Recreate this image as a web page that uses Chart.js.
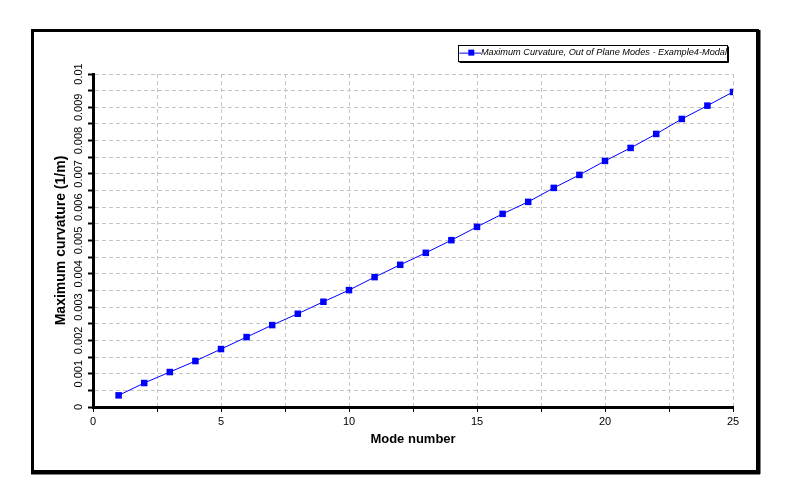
<!DOCTYPE html>
<html>
<head>
<meta charset="utf-8">
<script src="https://cdn.jsdelivr.net/npm/chart.js@4/dist/chart.umd.min.js"></script>
<style>
  body { margin: 0; background: #fff; }
  canvas { display: block; }
</style>
</head>
<body>
<canvas id="curvChart" width="788" height="502"></canvas>
<script>
// values
const modeNumbers = [1, 2, 3, 4, 5, 6, 7, 8, 9, 10, 11, 12, 13, 14, 15, 16, 17, 18, 19, 20, 21, 22, 23, 24, 25];
const maxCurvature = [0.00035, 0.00072, 0.00105, 0.00138, 0.00174, 0.0021, 0.00246, 0.0028, 0.00316, 0.00351,
  0.0039, 0.00427, 0.00463, 0.00501, 0.00541, 0.0058, 0.00616, 0.00658, 0.00697, 0.00739,
  0.00778, 0.0082, 0.00865, 0.00905, 0.00946];
const xTickLabels = ['0', '5', '10', '15', '20', '25'];
const yTickLabels = ['0', '0.001', '0.002', '0.003', '0.004', '0.005', '0.006', '0.007', '0.008', '0.009', '0.01'];
const seriesName = 'Maximum Curvature, Out of Plane Modes - Example4-Modal';

Chart.defaults.font.family = '"Liberation Sans", Arial, sans-serif';
Chart.defaults.color = '#000';

const PAD_L = 52, PAD_R = 55, PAD_T = 42, PAD_B = 52;
const LEGEND_FONT = 9.2;

// little line + square icon for the legend
function legendMarker() {
  const c = document.createElement('canvas');
  c.width = 32;
  c.height = 8;
  const g = c.getContext('2d');
  g.strokeStyle = '#0000ff';
  g.lineWidth = 1;
  g.beginPath();
  g.moveTo(10, 4.5);
  g.lineTo(32, 4.5);
  g.stroke();
  g.fillStyle = '#0000ff';
  g.fillRect(19, 1, 6, 6);
  return c;
}

const framePlugin = {
  id: 'frame',
  beforeInit(chart) {
    // leave a gap under the legend like the original
    const lg = chart.legend;
    const fit = lg.fit;
    lg.fit = function () {
      fit.call(this);
      this.height += 6.8;
    };
  },
  beforeDraw(chart) {
    const ctx = chart.ctx;
    ctx.save();
    ctx.fillStyle = '#fff';
    ctx.fillRect(0, 0, chart.width, chart.height);
    ctx.strokeStyle = '#000';
    ctx.lineWidth = 3;
    ctx.strokeRect(32.5, 30.5, 725, 441);
    ctx.fillStyle = '#000';
    ctx.fillRect(759, 30, 1.5, 444);
    ctx.fillRect(31, 473, 729, 1.5);
    ctx.restore();
  },
  afterDraw(chart) {
    const hb = chart.legend.legendHitBoxes[0];
    if (!hb) return;
    const ctx = chart.ctx;
    const mid = hb.top + LEGEND_FONT / 2;
    const l = Math.round(hb.left) + 4.5;
    const r = Math.round(hb.left + hb.width) + 0.5;
    const t = Math.round(mid - 7.5) + 0.5;
    const b = Math.round(mid + 8) + 0.5;
    ctx.save();
    ctx.strokeStyle = '#000';
    ctx.lineWidth = 1;
    ctx.strokeRect(l, t, r - l, b - t);
    ctx.fillStyle = '#000';
    ctx.fillRect(r + 0.5, t + 1, 1, b - t);
    ctx.fillRect(l + 1, b + 0.5, r - l, 1);
    ctx.restore();
  }
};

const points = modeNumbers.map((m, i) => ({ x: m, y: maxCurvature[i] }));

new Chart(document.getElementById('curvChart'), {
  type: 'line',
  data: {
    datasets: [{
      label: seriesName,
      data: points,
      borderColor: '#0000ff',
      backgroundColor: '#0000ff',
      borderWidth: 1,
      pointStyle: 'rect',
      pointRadius: 4.6,
      pointBorderWidth: 0,
      pointBackgroundColor: '#0000ff',
      tension: 0
    }]
  },
  options: {
    responsive: false,
    animation: false,
    devicePixelRatio: 1,
    layout: { padding: { left: PAD_L, right: PAD_R, top: PAD_T, bottom: PAD_B } },
    plugins: {
      tooltip: { enabled: false },
      legend: {
        position: 'top',
        align: 'end',
        labels: {
          usePointStyle: true,
          pointStyle: legendMarker(),
          pointStyleWidth: 22,
          padding: 6,
          color: '#000',
          font: { size: LEGEND_FONT, style: 'italic' }
        }
      }
    },
    scales: {
      x: {
        type: 'linear',
        min: 0,
        max: 25,
        afterFit: (s) => { s.height = 43; },
        ticks: {
          stepSize: 2.5,
          autoSkip: false,
          maxRotation: 0,
          padding: 3,
          font: { size: 11 },
          callback: (v) => {
            const s = String(v);
            return xTickLabels.includes(s) ? s : '';
          }
        },
        grid: {
          color: '#c4c4c4',
          lineWidth: 1,
          tickLength: 5,
          tickColor: '#000',
          tickWidth: 1,
          tickBorderDash: []
        },
        border: { display: true, color: '#000', width: 3, dash: [4, 3] },
        title: {
          display: true,
          text: 'Mode number',
          font: { size: 13, weight: 'bold' },
          padding: { top: 0, bottom: 3 }
        }
      },
      y: {
        min: 0,
        max: 0.01,
        afterFit: (s) => { s.width = 93 - PAD_L; },
        ticks: {
          stepSize: 0.0005,
          autoSkip: false,
          minRotation: 90,
          maxRotation: 90,
          crossAlign: 'center',
          padding: -5,
          font: { size: 11 },
          callback: (v) => {
            const s = String(parseFloat(v.toFixed(4)));
            return yTickLabels.includes(s) ? s : '';
          }
        },
        grid: {
          color: '#c4c4c4',
          lineWidth: 1,
          tickLength: 5,
          tickColor: '#000',
          tickWidth: 2,
          tickBorderDash: []
        },
        border: { display: true, color: '#000', width: 3, dash: [4, 3] },
        title: {
          display: true,
          text: 'Maximum curvature (1/m)',
          font: { size: 14, weight: 'bold' },
          padding: { top: 1, bottom: 0 }
        }
      }
    }
  },
  plugins: [framePlugin]
});
</script>
</body>
</html>
